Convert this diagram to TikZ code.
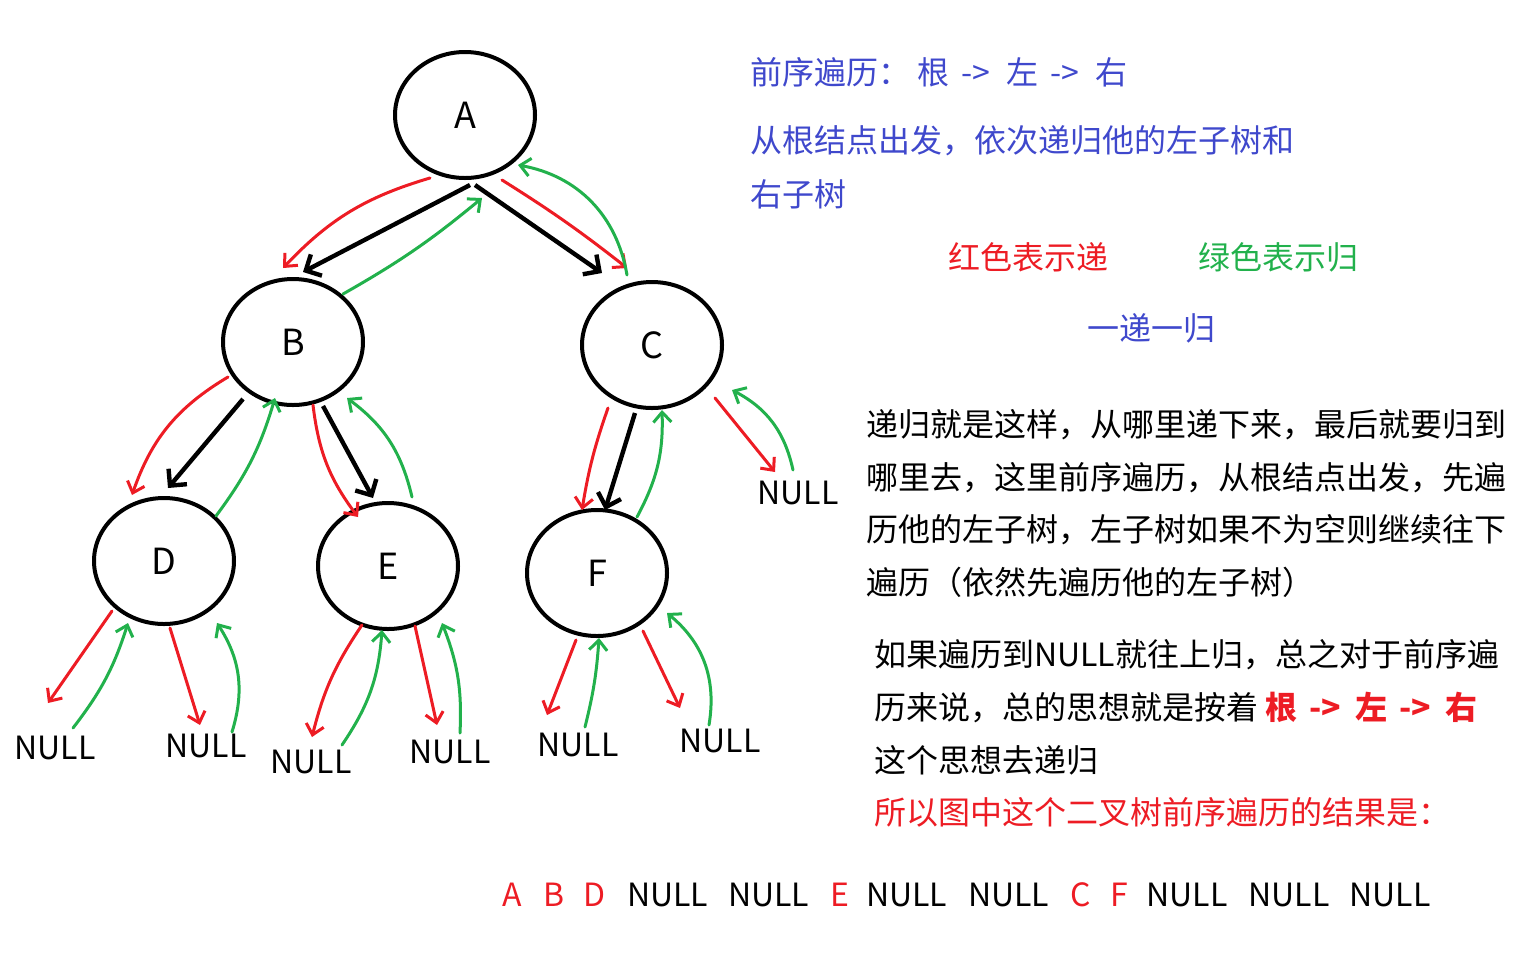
\documentclass[tikz,border=0pt]{standalone}
\usepackage{fontspec}
\setmainfont{Noto Sans CJK SC}
\usetikzlibrary{arrows.meta,calc,shapes.geometric}
\definecolor{tblue}{RGB}{63,72,204}
\definecolor{tred}{RGB}{237,28,36}
\definecolor{tgreen}{RGB}{34,177,76}
\tikzset{
  tnode/.style={ellipse, draw=black, line width=2pt, minimum width=70pt, minimum height=63pt, font=\fontsize{18pt}{20pt}\selectfont},
  nul/.style={inner sep=0pt, font=\fontsize{16pt}{18pt}\selectfont},
  txt/.style={anchor=west, inner sep=0pt, font=\fontsize{16pt}{18pt}\selectfont},
  recur/.style={tred, line width=1.5pt, line cap=round, -{Straight Barb[length=5pt,width=9pt]}},
  ret/.style={tgreen, line width=1.5pt, line cap=round, -{Straight Barb[length=5pt,width=9pt]}},
  tedge/.style={black, line width=2.2pt, -{Straight Barb[length=6pt,width=12pt]}}
}

\begin{document}
\begin{tikzpicture}[x=0.5pt,y=-0.5pt]
\useasboundingbox (0,0) rectangle (1536,960);

% tree
\node[tnode] (A) at (465,115) {A};
\node[tnode] (B) at (293,342) {B};
\node[tnode] (C) at (652,345) {C};
\node[tnode] (D) at (164,561) {D};
\node[tnode] (E) at (388,566) {E};
\node[tnode] (F) at (597,573) {F};
\node[nul] (nC) at (798,493) {NULL};
\node[nul] (nDl) at (55,748) {NULL};
\node[nul] (nDr) at (206,746) {NULL};
\node[nul] (nEl) at (311,762) {NULL};
\node[nul] (nEr) at (450,752) {NULL};
\node[nul] (nFl) at (578,745) {NULL};
\node[nul] (nFr) at (720,741) {NULL};

\draw[tedge] ($(A)+(5,70)$) -- ($(B)+(10,-70)$);
\draw[tedge] ($(A)+(10,70)$) -- ($(C)+(-50,-72)$);
\draw[tedge] ($(B)+(-50,57)$) -- ($(D)+(4,-73)$);
\draw[tedge] ($(B)+(30,64)$) -- ($(E)+(-15,-68)$);
\draw[tedge] ($(C)+(-17,68)$) -- ($(F)+(8,-63)$);

% red: going down
\foreach \s/\sx/\sy/\t/\tx/\ty/\bb in {
  A/-35/63/B/-10/-74/15, A/37/65/C/-25/-77/-3, B/-65/35/D/-32/-66/20,
  B/20/63/E/-30/-49/15, C/-44/63/F/-15/-63/5, C/63/53/nC/-23/-21/0,
  D/-52/50/nDl/-7/-45/0, D/6/67/nDr/-6/-21/0, E/-26/59/nEl/1/-25/10,
  E/27/60/nEr/-13/-27/0, F/-21/67/nFl/-31/-30/0, F/46/58/nFr/-40/-33/0}{
\draw[recur] ($(\s)+(\sx,\sy)$) to[bend right=\bb] ($(\t)+(\tx,\ty)$);
}

% green: coming back
\foreach \s/\sx/\sy/\t/\tx/\ty/\bb in {
  B/50/-48/A/17/83/5, C/-25/-70/A/53/50/35, D/52/-45/B/-18/56/10,
  E/24/-69/B/54/56/20, F/40/-56/C/10/65/15, nC/-5/-23/C/80/45/25,
  nDl/18/-20/D/-36/62/10, nDr/26/-14/D/53/62/25, nEl/31/-17/E/-6/64/15,
  nEr/10/-19/E/54/57/12, nFl/7/-18/F/2/65/5, nFr/-11/-16/F/70/40/30}{
\draw[ret] ($(\s)+(\sx,\sy)$) to[bend right=\bb] ($(\t)+(\tx,\ty)$);
}

% notes
\node[txt, text=tblue] (t1) at (750,72) {前序遍历： 根\hspace{6pt}->\hspace{8pt}左\hspace{6pt}->\hspace{8pt}右};
\node[txt, text=tblue] (t2) at (750,141) {从根结点出发，依次递归他的左子树和};
\node[txt, text=tblue] (t3) at (750,194) {右子树};
\node[txt, text=tred] (t4) at (948,257) {红色表示递};
\node[txt, text=tgreen] (t5) at (1198,257) {绿色表示归};
\node[txt, text=tblue] (t6) at (1087,328) {一递一归};

\foreach [count=\i from 0] \l in {递归就是这样，从哪里递下来，最后就要归到,
  哪里去，这里前序遍历，从根结点出发，先遍,
  历他的左子树，左子树如果不为空则继续往下,
  遍历（依然先遍历他的左子树）}{
\node[txt] (p\i) at (866,425+52.3*\i) {\l};
}

\node[txt] (q0) at (874,655) {如果遍历到NULL就往上归，总之对于前序遍};
\node[txt] (q1) at (874,708) {历来说，总的思想就是按着 {\bfseries\color{tred}根\hspace{6pt}->\hspace{7pt}左\hspace{6pt}->\hspace{7pt}右}};
\node[txt] (q2) at (874,760) {这个思想去递归};
\node[txt, text=tred] (q3) at (874,812) {所以图中这个二叉树前序遍历的结果是：};

% result
\foreach [count=\i] \x/\w/\c in {502/A/tred, 543/B/tred, 583/D/tred, 627/NULL/black,
  728/NULL/black, 830/E/tred, 866/NULL/black, 968/NULL/black, 1070/C/tred,
  1110/F/tred, 1146/NULL/black, 1248/NULL/black, 1349/NULL/black}{
\node[txt, text=\c] (r\i) at (\x,895) {\w};
}

\end{tikzpicture}
\end{document}
